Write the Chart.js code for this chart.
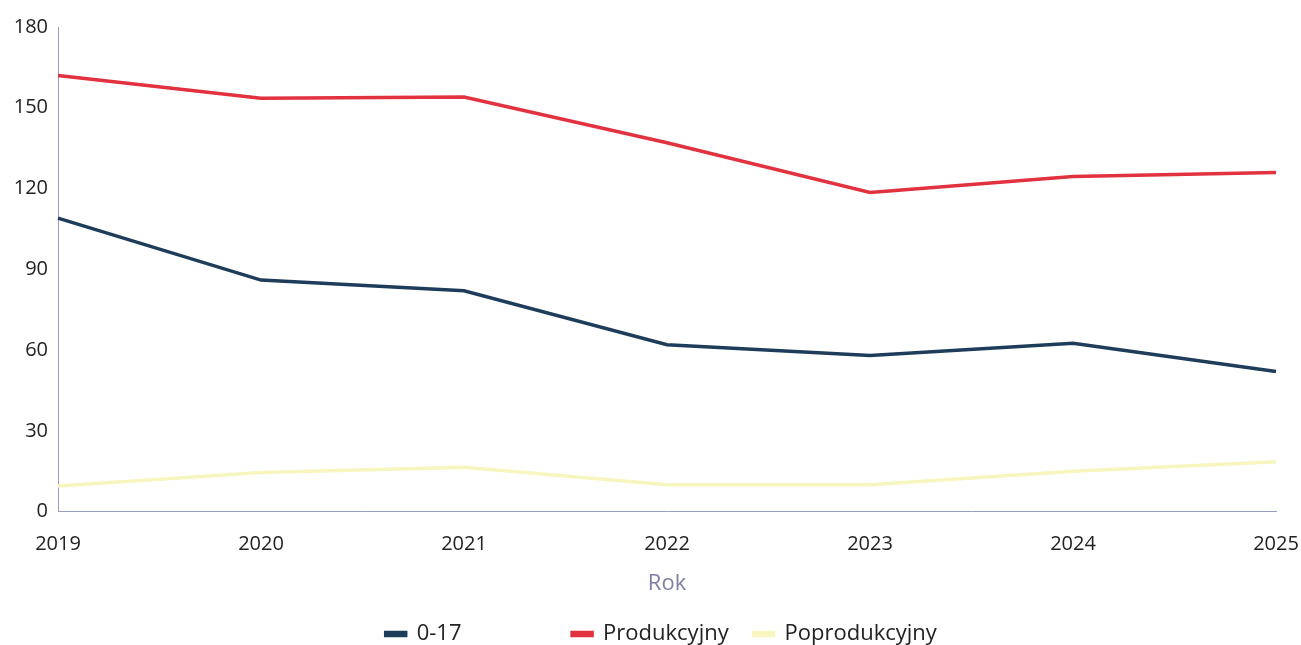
<!DOCTYPE html>
<html>
<head>
<meta charset="utf-8">
<script src="https://cdn.jsdelivr.net/npm/chart.js@4"></script>
<style>
  html, body { margin: 0; padding: 0; background: #fff; }
  #wrap { width: 1301px; height: 645px; }
</style>
</head>
<body>
<div id="wrap"><canvas id="ageChart"></canvas></div>
<script>
const years = ['2019', '2020', '2021', '2022', '2023', '2024', '2025'];
const youngValues = [109, 86, 82, 62, 58, 62.5, 52];
const workingValues = [162, 153.5, 154, 137, 118.5, 124.5, 126];
const retiredValues = [9.5, 14.5, 16.5, 10, 10, 15, 18.5];
const yTicks = [0, 30, 60, 90, 120, 150, 180];

Chart.defaults.font.family = "'Open Sans', sans-serif";
Chart.defaults.color = '#222';

const axisBorder = {
  display: true,
  color: '#9a9cc8',
  dash: [4, 3],
  width: 1
};

const ctx = document.getElementById('ageChart').getContext('2d');
new Chart(ctx, {
  type: 'line',
  data: {
    labels: years,
    datasets: [
      {
        label: '0-17',
        data: youngValues,
        borderColor: '#1e3d5a',
        backgroundColor: '#1e3d5a',
        borderWidth: 3.5,
        pointRadius: 0,
        tension: 0
      },
      {
        label: 'Produkcyjny',
        data: workingValues,
        borderColor: '#e2313f',
        backgroundColor: '#e2313f',
        borderWidth: 3.5,
        pointRadius: 0,
        tension: 0
      },
      {
        label: 'Poprodukcyjny',
        data: retiredValues,
        borderColor: '#f7f6bf',
        backgroundColor: '#f7f6bf',
        borderWidth: 3.5,
        pointRadius: 0,
        tension: 0
      }
    ]
  },
  options: {
    responsive: true,
    maintainAspectRatio: false,
    animation: false,
    // legend box keeps 10px spare at its bottom, pull it back down
    layout: { padding: { top: 27, right: 0, left: 0, bottom: -10 } },
    scales: {
      x: {
        offset: false,
        grid: { display: false },
        border: axisBorder,
        ticks: { font: { size: 20 }, padding: 13, maxRotation: 0 },
        title: {
          display: true,
          text: 'Rok',
          color: '#7e80a8',
          font: { size: 22 },
          padding: { top: 1, bottom: 24 }
        },
        afterFit: (scale) => {
          scale.paddingLeft = 20;
          scale.paddingRight = 25;
        }
      },
      y: {
        min: 0,
        max: 180,
        grid: { display: false },
        border: axisBorder,
        afterBuildTicks: (axis) => { axis.ticks = yTicks.map(v => ({ value: v })); },
        ticks: { font: { size: 20 }, padding: 2 },
        afterFit: (scale) => { scale.width = 58; }
      }
    },
    plugins: {
      legend: {
        position: 'bottom',
        fullSize: false,
        labels: {
          boxWidth: 20,
          boxHeight: 3,
          padding: 2,
          font: { size: 22 },
          generateLabels: (chart) => {
            const base = Chart.defaults.plugins.legend.labels.generateLabels(chart);
            return base.map(item => {
              if (item.text === '0-17') item.text = '0-17                   ';
              if (item.text === 'Produkcyjny') item.text = 'Produkcyjny    ';
              if (item.text === 'Poprodukcyjny') item.text = 'Poprodukcyjny  ';
              return item;
            });
          }
        }
      },
      tooltip: { enabled: false }
    }
  }
});
</script>
</body>
</html>
